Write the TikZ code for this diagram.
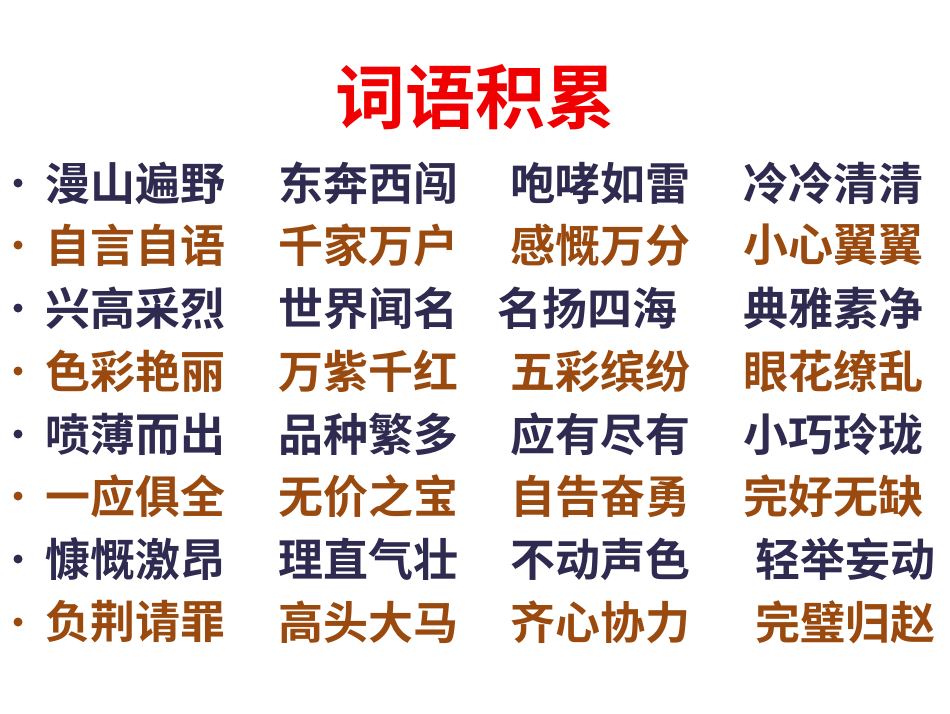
\documentclass[tikz,border=0pt]{standalone}
\usepackage{fontspec}
\newfontfamily\cjk{Noto Sans CJK SC Bold}
\definecolor{navy}{HTML}{2F2A50}
\definecolor{brn}{HTML}{9A4A0E}
\definecolor{ttl}{HTML}{F00000}
\begin{document}
\begin{tikzpicture}[x=1pt,y=-1pt,
  word/.style={anchor=west,inner sep=0pt,font=\cjk\fontsize{45}{45}\selectfont},
  dot/.style={circle,inner sep=0pt,minimum size=9pt}]
\useasboundingbox (0,0) rectangle (950,713);
\node[inner sep=0pt,text=ttl,font=\cjk\fontsize{70}{70}\selectfont] (title) at (475,97) {词语积累};
\foreach \i/\y/\c/\a/\b/\cc/\d/\xc/\xd in {
 1/183/navy/漫山遍野/东奔西闯/咆哮如雷/冷冷清清/510/743,
 2/245/brn/自言自语/千家万户/感慨万分/小心翼翼/510/743,
 3/308/navy/兴高采烈/世界闻名/名扬四海/典雅素净/497/743,
 4/371/brn/色彩艳丽/万紫千红/五彩缤纷/眼花缭乱/510/743,
 5/434/navy/喷薄而出/品种繁多/应有尽有/小巧玲珑/510/743,
 6/496/brn/一应俱全/无价之宝/自告奋勇/完好无缺/510/743,
 7/559/navy/慷慨激昂/理直气壮/不动声色/轻举妄动/510/755,
 8/622/brn/负荆请罪/高头大马/齐心协力/完璧归赵/510/755}{
  \node[dot,fill=\c] (b\i) at (18,\y) {};
  \node[word,text=\c] (w\i a) at (45,\y) {\a};
  \node[word,text=\c] (w\i b) at (278,\y) {\b};
  \node[word,text=\c] (w\i c) at (\xc,\y) {\cc};
  \node[word,text=\c] (w\i d) at (\xd,\y) {\d};
}
\end{tikzpicture}
\end{document}
